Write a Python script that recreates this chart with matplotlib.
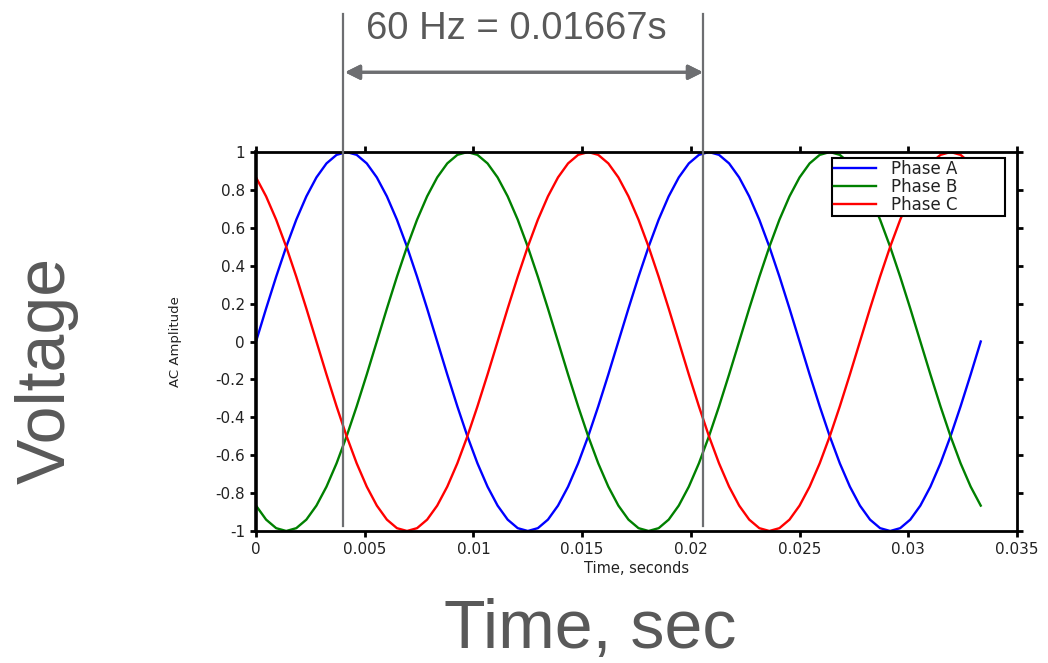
import matplotlib
matplotlib.use('Agg')
import matplotlib.pyplot as plt
from matplotlib.lines import Line2D

plt.rcParams['axes.unicode_minus'] = False

# time samples (s), one every 10 degrees of a 60 Hz cycle
time_s = [0, 0.000463, 0.000926, 0.001389, 0.001852, 0.002315, 0.002778, 0.003241,
          0.003704, 0.004167, 0.00463, 0.005093, 0.005556, 0.006019, 0.006481, 0.006944,
          0.007407, 0.00787, 0.008333, 0.008796, 0.009259, 0.009722, 0.010185, 0.010648,
          0.011111, 0.011574, 0.012037, 0.0125, 0.012963, 0.013426, 0.013889, 0.014352,
          0.014815, 0.015278, 0.015741, 0.016204, 0.016667, 0.01713, 0.017593, 0.018056,
          0.018519, 0.018981, 0.019444, 0.019907, 0.02037, 0.020833, 0.021296, 0.021759,
          0.022222, 0.022685, 0.023148, 0.023611, 0.024074, 0.024537, 0.025, 0.025463,
          0.025926, 0.026389, 0.026852, 0.027315, 0.027778, 0.028241, 0.028704, 0.029167,
          0.02963, 0.030093, 0.030556, 0.031019, 0.031481, 0.031944, 0.032407, 0.03287,
          0.033333]

phase_a = [0, 0.174, 0.342, 0.5, 0.643, 0.766, 0.866, 0.94, 0.985, 1, 0.985, 0.94,
           0.866, 0.766, 0.643, 0.5, 0.342, 0.174, 0, -0.174, -0.342, -0.5, -0.643, -0.766,
           -0.866, -0.94, -0.985, -1, -0.985, -0.94, -0.866, -0.766, -0.643, -0.5, -0.342, -0.174,
           0, 0.174, 0.342, 0.5, 0.643, 0.766, 0.866, 0.94, 0.985, 1, 0.985, 0.94,
           0.866, 0.766, 0.643, 0.5, 0.342, 0.174, 0, -0.174, -0.342, -0.5, -0.643, -0.766,
           -0.866, -0.94, -0.985, -1, -0.985, -0.94, -0.866, -0.766, -0.643, -0.5, -0.342, -0.174,
           0]

phase_b = [-0.866, -0.94, -0.985, -1, -0.985, -0.94, -0.866, -0.766, -0.643, -0.5, -0.342, -0.174,
           0, 0.174, 0.342, 0.5, 0.643, 0.766, 0.866, 0.94, 0.985, 1, 0.985, 0.94,
           0.866, 0.766, 0.643, 0.5, 0.342, 0.174, 0, -0.174, -0.342, -0.5, -0.643, -0.766,
           -0.866, -0.94, -0.985, -1, -0.985, -0.94, -0.866, -0.766, -0.643, -0.5, -0.342, -0.174,
           0, 0.174, 0.342, 0.5, 0.643, 0.766, 0.866, 0.94, 0.985, 1, 0.985, 0.94,
           0.866, 0.766, 0.643, 0.5, 0.342, 0.174, 0, -0.174, -0.342, -0.5, -0.643, -0.766,
           -0.866]

phase_c = [0.866, 0.766, 0.643, 0.5, 0.342, 0.174, 0, -0.174, -0.342, -0.5, -0.643, -0.766,
           -0.866, -0.94, -0.985, -1, -0.985, -0.94, -0.866, -0.766, -0.643, -0.5, -0.342, -0.174,
           0, 0.174, 0.342, 0.5, 0.643, 0.766, 0.866, 0.94, 0.985, 1, 0.985, 0.94,
           0.866, 0.766, 0.643, 0.5, 0.342, 0.174, 0, -0.174, -0.342, -0.5, -0.643, -0.766,
           -0.866, -0.94, -0.985, -1, -0.985, -0.94, -0.866, -0.766, -0.643, -0.5, -0.342, -0.174,
           0, 0.174, 0.342, 0.5, 0.643, 0.766, 0.866, 0.94, 0.985, 1, 0.985, 0.94,
           0.866]

x_ticks = [0, 0.005, 0.01, 0.015, 0.02, 0.025, 0.03, 0.035]
x_tick_labels = ['0', '0.005', '0.01', '0.015', '0.02', '0.025', '0.03', '0.035']
y_ticks = [1, 0.8, 0.6, 0.4, 0.2, 0, -0.2, -0.4, -0.6, -0.8, -1]
y_tick_labels = ['1', '0.8', '0.6', '0.4', '0.2', '0', '-0.2', '-0.4', '-0.6', '-0.8', '-1']

gray = '#6d6e71'
big_font = 'Liberation Sans'

fig = plt.figure(figsize=(10.48, 6.63), dpi=100)
ax = fig.add_axes([0.2443, 0.1991, 0.9704 - 0.2443, 0.7707 - 0.1991])

# the three phases
ax.plot(time_s, phase_a, color='#0000ff', lw=1.7, label='Phase A')
ax.plot(time_s, phase_b, color='#008000', lw=1.7, label='Phase B')
ax.plot(time_s, phase_c, color='#ff0000', lw=1.7, label='Phase C')

ax.set_xlim(0, 0.035)
ax.set_ylim(-1, 1)
ax.set_xticks(x_ticks)
ax.set_xticklabels(x_tick_labels)
ax.set_yticks(y_ticks)
ax.set_yticklabels(y_tick_labels)

# ticks stick out on every side, labels only bottom/left
ax.tick_params(direction='out', length=4, width=2, top=True, right=True,
               labelsize=11, labelcolor='#222222', pad=4)
for s in ax.spines.values():
    s.set_linewidth(2)
ax.spines['left'].set_linewidth(2.6)

ax.set_xlabel('Time, seconds', fontsize=10.5, labelpad=3, color='#222222')
ax.set_ylabel('AC Amplitude', fontsize=9.5, labelpad=24, color='#222222')

# legend box stretched to the width it has in the picture
leg = ax.legend(loc='upper left', bbox_to_anchor=(0.757, 0.8285, 0.227, 0.1555),
                mode='expand', fontsize=12, frameon=True, fancybox=False, framealpha=1,
                edgecolor='black', borderpad=0.12, labelspacing=0.0, handlelength=2.5,
                handletextpad=0.9, borderaxespad=0)
leg.get_frame().set_linewidth(1.5)
for t in leg.get_texts():
    t.set_color('#222222')

# period annotation on top
for xf in [343 / 1048, 703 / 1048]:
    fig.add_artist(Line2D([xf, xf], [0.979, 0.2066], transform=fig.transFigure,
                          color=gray, lw=1.6))
fig.add_artist(plt.annotate('', xy=(703 / 1048, 0.891), xytext=(345 / 1048, 0.891),
                            xycoords='figure fraction', textcoords='figure fraction',
                            arrowprops=dict(arrowstyle='<|-|>', color=gray, lw=2.2,
                                            mutation_scale=22, shrinkA=0, shrinkB=0)))
fig.text(0.493, 0.956, '60 Hz = 0.01667s', fontsize=27.5, color='#595959',
         family=big_font, ha='center', va='center')

# big axis titles
fig.text(0.045, 0.442, 'Voltage', fontsize=49, color='#595959', family=big_font,
         rotation=90, ha='center', va='center')
fig.text(0.563, 0.05, 'Time, sec', fontsize=49, color='#595959', family=big_font,
         ha='center', va='center')

fig.savefig('out.png', dpi=100)
